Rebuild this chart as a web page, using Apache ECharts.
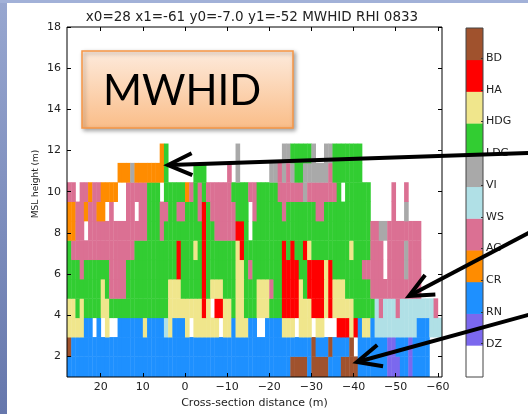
<!DOCTYPE html>
<html><head><meta charset="utf-8">
<script src="https://cdn.jsdelivr.net/npm/echarts@6/dist/echarts.min.js"></script>
<style>html,body{margin:0;padding:0;background:#fff}#c{width:528px;height:414px}</style>
</head><body><div id="c"></div>
<script>
// ---- categories ----
const classCodes  = ['.', 'D', 'R', 'C', 'A', 'W', 'V', 'L', 'G', 'H', 'B'];
const classNames  = ['', 'DZ', 'RN', 'CR', 'AG', 'WS', 'VI', 'LDG', 'HDG', 'HA', 'BD'];
const classColors = ['#ffffff', '#7b68ee', '#1e90ff', '#ff8c00', '#db7093', '#b0e0e6',
                     '#a9a9a9', '#32cd32', '#f0e68c', '#ff0000', '#a0522d'];

// ---- grid geometry in data units ----
const xStart = 28;          // first column left edge (m)
const colWidth = 1;         // column width (m)
const rowEdges = [1.0, 2.0, 2.94, 3.88, 4.82, 5.76, 6.70, 7.64, 8.58, 9.52, 10.46, 11.40, 12.34];

// ---- classified cells, one run-length string per row (bottom to top) ----
const row0  = "53R 4B 1R 4B 3R 4B 7R 3D 2R 1D 4R 3.";
const row1  = "1B 57R 1B 3R 1B 4R 1B 1. 7R 2D 3R 1D 4R 3.";
const row2  = "4G 2R 1. 1R 1. 1G 2. 6R 1G 4R 1W 1G 3R 1G 1. 6G 1. 2G 1R 3G 2R 2. 4R 3G 1. 3G 1. 2G 3. 3H 1G 1H 1R 2G 1R 10W 3R 3W";
const row3  = "2G 1L 1G 4L 2G 14L 8G 1H 1G 1. 2H 2G 1L 2G 3L 3G 3L 4H 3G 3H 1G 1H 5G 5L 1W 1A 3W 1A 8W 1A 1.";
const row4  = "8L 1G 1L 4A 10L 3G 5L 1H 1L 3G 3L 2G 3L 3G 1A 2L 4H 1G 1L 4H 1G 1H 3G 6L 12A 5.";
const row5  = "3L 1A 6L 4A 12L 1H 5L 1H 7L 2G 1L 1A 7L 4H 2L 4H 1G 1H 7L 5A 1. 4A 1V 3A 5.";
const row6  = "1L 15A 10L 1H 3L 1G 1L 1H 7L 1G 1H 9L 1H 1L 1H 2L 1H 1G 9L 1G 4L 3A 1. 4A 1V 3A 5.";
const row7  = "2C 2A 1. 14A 3L 1A 9L 1H 2L 5A 2H 1L 1. 28L 2A 2V 8A 5.";
const row8  = "2C 2A 1C 2A 2C 1. 1A 3. 2A 1. 2A 3L 2A 2L 2A 3L 1A 1H 1L 6A 3L 1. 1A 6L 1A 7L 2A 11L 5. 1A 2. 1V 8.";
const row9  = "2A 1. 2A 1C 2A 4C 2. 5A 3L 1. 5L 1C 1A 1L 1A 1L 6A 4L 2A 5L 6A 1V 7A 1L 1. 6L 5. 1A 2. 1A 8.";
const row10 = "12. 3C 1V 7C 1L 6. 3L 5. 1A 1. 1V 7. 2V 1A 1V 1A 1V 2L 6V 1A 7L 19.";
const row11 = "22. 1C 1L 16. 1V 10. 2V 5L 1V 2. 2V 7L 19.";
const rows = [row0, row1, row2, row3, row4, row5, row6, row7, row8, row9, row10, row11];

// ---- axis ticks ----
const xTicks = [20, 10, 0, -10, -20, -30, -40, -50, -60];
const yTicks = [2, 4, 6, 8, 10, 12, 14, 16, 18];
const cbTicks = [1.05, 2.05, 3.05, 4.05, 5.05, 6.05, 7.05, 8.05, 9.05, 10.05];

// ---- build cell list ----
const cells = [];
rows.forEach(function (rle, r) {
  let col = 0;
  rle.trim().split(/\s+/).forEach(function (tok) {
    const m = tok.match(/^(\d+)(.)$/);
    const n = +m[1], k = classCodes.indexOf(m[2]);
    for (let i = 0; i < n; i++, col++) {
      if (k > 0) {
        const xl = xStart - col * colWidth, xr = xl - colWidth;
        cells.push([xl, xr, rowEdges[r], rowEdges[r + 1], k]);
      }
    }
  });
});
const cbCells = classColors.map(function (c, k) { return [0, 1, k, k + 1, k]; });

function renderRect(params, api) {
  const p1 = api.coord([api.value(0), api.value(3)]);
  const p2 = api.coord([api.value(1), api.value(2)]);
  const x = Math.min(p1[0], p2[0]), y = Math.min(p1[1], p2[1]);
  return {
    type: 'rect',
    shape: { x: x, y: y, width: Math.abs(p2[0] - p1[0]) + 0.4, height: Math.abs(p2[1] - p1[1]) + 0.4 },
    style: { fill: classColors[api.value(4)] }
  };
}

function arrowEls(tip, tail) {
  const dx = tail[0] - tip[0], dy = tail[1] - tip[1], len = Math.hypot(dx, dy);
  const ux = dx / len, uy = dy / len, nx = -uy, ny = ux;
  const L = 24, W = 11;
  const a = [tip[0] + ux * L + nx * W, tip[1] + uy * L + ny * W];
  const b = [tip[0] + ux * L - nx * W, tip[1] + uy * L - ny * W];
  return [
    { type: 'line', z: 100, shape: { x1: tip[0] + ux * 2, y1: tip[1] + uy * 2, x2: tail[0], y2: tail[1] },
      style: { stroke: '#000', lineWidth: 4 } },
    { type: 'polyline', z: 100, shape: { points: [a, tip, b] },
      style: { stroke: '#000', lineWidth: 4, fill: null, lineJoin: 'miter' } }
  ];
}

const font = 'DejaVu Sans';
const tickLab = { color: '#222', fontSize: 11, fontFamily: font };

const chart = echarts.init(document.getElementById('c'), null, { renderer: 'canvas' });
chart.setOption({
  backgroundColor: '#ffffff',
  animation: false,
  grid: [
    { left: 67, top: 27, width: 375, height: 350, show: true, borderColor: '#000', borderWidth: 1, backgroundColor: 'transparent', z: 5 },
    { left: 466, top: 28, width: 17, height: 349, show: true, borderColor: '#444', borderWidth: 1, backgroundColor: 'transparent', z: 5 }
  ],
  xAxis: [
    { type: 'value', gridIndex: 0, min: -61, max: 28, inverse: true, position: 'bottom', z: 10,
      axisLine: { show: false, onZero: false }, splitLine: { show: false },
      axisTick: { inside: true, length: 4, lineStyle: { color: '#000' }, customValues: xTicks },
      axisLabel: Object.assign({ customValues: xTicks, margin: 5,
        formatter: function (v) { return String(v).replace('-', '\u2212'); } }, tickLab),
      name: 'Cross-section distance (m)', nameLocation: 'middle', nameGap: 21,
      nameTextStyle: { color: '#222', fontSize: 11, fontFamily: font } },
    { type: 'value', gridIndex: 0, min: -61, max: 28, inverse: true, position: 'top', z: 10,
      axisLine: { show: false, onZero: false }, splitLine: { show: false },
      axisTick: { inside: true, length: 4, lineStyle: { color: '#000' }, customValues: xTicks },
      axisLabel: { show: false } },
    { type: 'value', gridIndex: 1, min: 0, max: 1, show: false }
  ],
  yAxis: [
    { type: 'value', gridIndex: 0, min: 1, max: 18, position: 'left', z: 10,
      axisLine: { show: false, onZero: false }, splitLine: { show: false },
      axisTick: { inside: true, length: 4, lineStyle: { color: '#000' }, customValues: yTicks },
      axisLabel: Object.assign({ customValues: yTicks, margin: 6 }, tickLab) },
    { type: 'value', gridIndex: 0, min: 1, max: 18, position: 'right', z: 10,
      axisLine: { show: false, onZero: false }, splitLine: { show: false },
      axisTick: { inside: true, length: 4, lineStyle: { color: '#000' }, customValues: yTicks },
      axisLabel: { show: false } },
    { type: 'value', gridIndex: 1, min: 0, max: 11, position: 'right', z: 10,
      axisLine: { show: false, onZero: false }, splitLine: { show: false },
      axisTick: { inside: true, length: 2, lineStyle: { color: '#333' }, customValues: cbTicks },
      axisLabel: Object.assign({ customValues: cbTicks, margin: 3,
        formatter: function (v) { return classNames[Math.round(v - 0.05)]; } }, tickLab) }
  ],
  series: [
    { type: 'custom', name: 'MWHID', xAxisIndex: 0, yAxisIndex: 0, clip: true,
      encode: { x: [0, 1], y: [2, 3] }, renderItem: renderRect, data: cells },
    { type: 'custom', name: 'colorbar', xAxisIndex: 2, yAxisIndex: 2, clip: true,
      encode: { x: [0, 1], y: [2, 3] }, renderItem: renderRect, data: cbCells }
  ],
  graphic: [
    { type: 'rect', z: -1, shape: { x: 0, y: 0, width: 7, height: 414 },
      style: { fill: new echarts.graphic.LinearGradient(0, 0, 0, 1, [{ offset: 0, color: '#98A7D0' }, { offset: 1, color: '#6677AC' }]) } },
    { type: 'rect', z: -1, shape: { x: 0, y: 0, width: 528, height: 3 },
      style: { fill: '#A2B1D8' } },
    { type: 'text', x: 252, y: 17, z: 20,
      style: { text: 'x0=28 x1=-61 y0=-7.0 y1=-52 MWHID RHI 0833', align: 'center', verticalAlign: 'middle',
               font: '13.5px "DejaVu Sans"', fill: '#222' } },
    { type: 'text', x: 36, y: 184, rotation: Math.PI / 2, z: 20,
      style: { text: 'MSL height (m)', align: 'center', verticalAlign: 'middle',
               font: '9px "DejaVu Sans"', fill: '#222' } },
    { type: 'rect', z: 90, shape: { x: 82, y: 51, width: 211, height: 77 },
      style: { fill: new echarts.graphic.LinearGradient(0, 0, 0, 1, [{ offset: 0, color: '#FDEBDD' }, { offset: 1, color: '#FABD88' }]),
               stroke: '#F79646', lineWidth: 1.5,
               shadowColor: 'rgba(0,0,0,0.35)', shadowBlur: 4, shadowOffsetX: 2, shadowOffsetY: 2 } },
    { type: 'text', x: 103, y: 91, z: 91,
      style: { text: 'MWHID', align: 'left', verticalAlign: 'middle', font: '42px Lato', fill: '#000' } }
  ].concat(arrowEls([168, 165], [540, 152.7]))
   .concat(arrowEls([409, 296], [540, 227]))
   .concat(arrowEls([357, 362], [540, 311.7]))
});
</script>
</body></html>
